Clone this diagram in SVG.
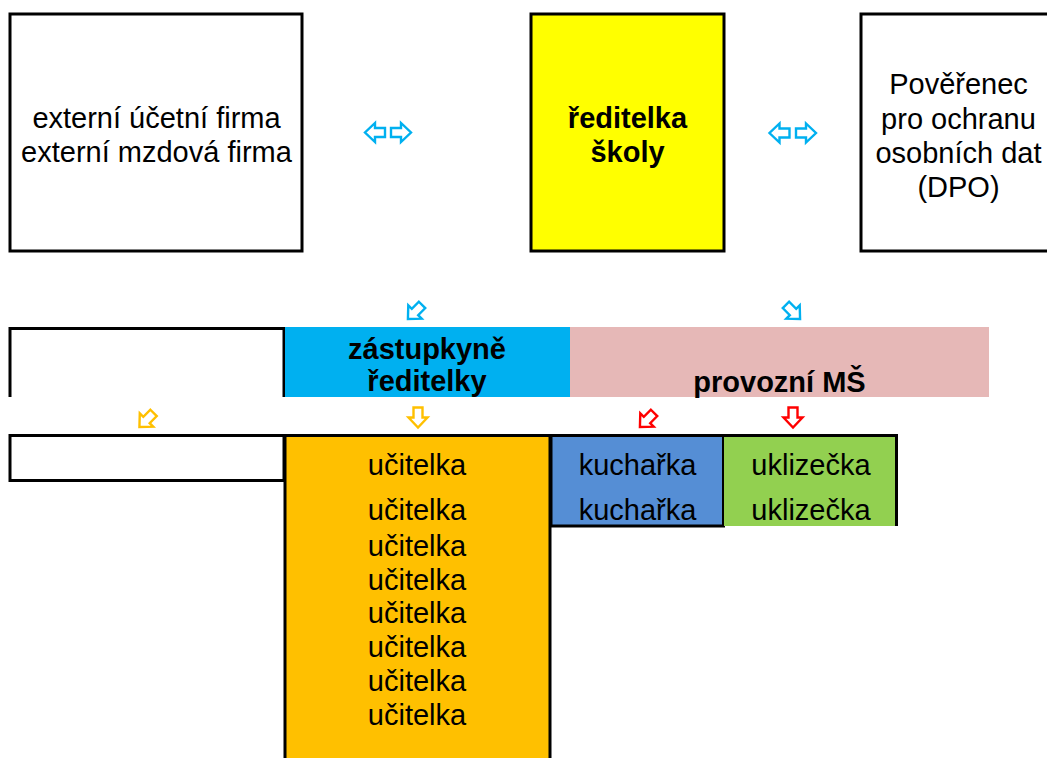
<svg xmlns="http://www.w3.org/2000/svg" width="1047" height="758" viewBox="0 0 1047 758">
  <style>
    .t { font-family: "Liberation Sans", Arial, sans-serif; font-size: 29px; fill: #000; text-anchor: middle; }
    .b { font-weight: bold; }
    .line { fill: none; stroke: #000; stroke-width: 3; }
    .arr { stroke-width: 2.4; fill: #fff; stroke-linejoin: miter; }
    .blue { stroke: #00B0F0; }
    .orange { stroke: #FFC000; }
    .red { stroke: #FF0000; }
  </style>
  <defs>
    <!-- hollow block arrow pointing down, centred on the origin -->
    <path id="down" d="M -4.5,-10 H 4.5 V 0 H 9.5 L 0,10 L -9.5,0 H -4.5 Z"/>
  </defs>
  <rect width="1047" height="758" fill="#fff"/>

  <!-- top row -->
  <g id="externi-firmy">
    <rect x="10" y="14" width="292" height="237" fill="#fff" class="line"/>
    <text class="t" x="156.5" y="128">externí účetní firma</text>
    <text class="t" x="156.5" y="162">externí mzdová firma</text>
  </g>
  <g id="reditelka">
    <rect x="531" y="14" width="193" height="237" fill="#FFFF00" stroke="#000" stroke-width="3"/>
    <text class="t b" x="627.5" y="128">ředitelka</text>
    <text class="t b" x="627.5" y="162">školy</text>
  </g>
  <g id="dpo">
    <rect x="861" y="14" width="200" height="237" fill="#fff" class="line"/>
    <text class="t" x="958.5" y="94">Pověřenec</text>
    <text class="t" x="958.5" y="129">pro ochranu</text>
    <text class="t" x="958.5" y="163">osobních dat</text>
    <text class="t" x="958.5" y="197">(DPO)</text>
  </g>

  <!-- second row -->
  <g id="prazdny-1">
    <path class="line" d="M 10,397 V 328.5 H 284 V 397"/>
  </g>
  <g id="zastupkyne">
    <rect x="285" y="327" width="285" height="70" fill="#00B0F0"/>
    <text class="t b" x="427" y="359">zástupkyně</text>
    <text class="t b" x="427" y="391">ředitelky</text>
  </g>
  <g id="provozni">
    <rect x="570" y="327" width="419" height="70" fill="#E6B8B7"/>
    <text class="t b" x="779.5" y="392">provozní MŠ</text>
  </g>

  <!-- third row -->
  <g id="prazdny-2">
    <rect x="10" y="435.5" width="274" height="45" fill="#fff" class="line"/>
  </g>
  <g id="ucitelky">
    <rect x="285" y="435" width="265" height="330" fill="#FFC000"/>
    <path class="line" d="M 285,760 V 435.5 H 550 V 760"/>
    <text class="t" x="417" y="475">učitelka</text>
    <text class="t" x="417" y="520">učitelka</text>
    <text class="t" x="417" y="556">učitelka</text>
    <text class="t" x="417" y="590">učitelka</text>
    <text class="t" x="417" y="623">učitelka</text>
    <text class="t" x="417" y="657">učitelka</text>
    <text class="t" x="417" y="691">učitelka</text>
    <text class="t" x="417" y="725">učitelka</text>
  </g>
  <g id="kucharky">
    <rect x="551" y="435.5" width="172.5" height="90.5" class="line" style="fill:#558ED5"/>
    <text class="t" x="637.5" y="475">kuchařka</text>
    <text class="t" x="637.5" y="520">kuchařka</text>
  </g>
  <g id="uklizecky">
    <rect x="724" y="435" width="173" height="91" fill="#92D050"/>
    <path class="line" d="M 723,435.5 H 896.5 V 526"/>
    <text class="t" x="811" y="475">uklizečka</text>
    <text class="t" x="811" y="520">uklizečka</text>
  </g>

  <!-- connectors -->
  <g id="spojnice">
    <use href="#down" class="arr blue" transform="translate(375,132.5) rotate(90)"/>
    <use href="#down" class="arr blue" transform="translate(401,132.5) rotate(-90)"/>
    <use href="#down" class="arr blue" transform="translate(779.5,133) rotate(90)"/>
    <use href="#down" class="arr blue" transform="translate(806,133) rotate(-90)"/>
    <use href="#down" class="arr blue" transform="translate(415,312) rotate(45)"/>
    <use href="#down" class="arr blue" transform="translate(793,312) rotate(-45)"/>
    <use href="#down" class="arr orange" transform="translate(146.5,420) rotate(45)"/>
    <use href="#down" class="arr orange" transform="translate(418,417.5)"/>
    <use href="#down" class="arr red" transform="translate(647,420) rotate(45)"/>
    <use href="#down" class="arr red" transform="translate(793,417.5)"/>
  </g>
</svg>
